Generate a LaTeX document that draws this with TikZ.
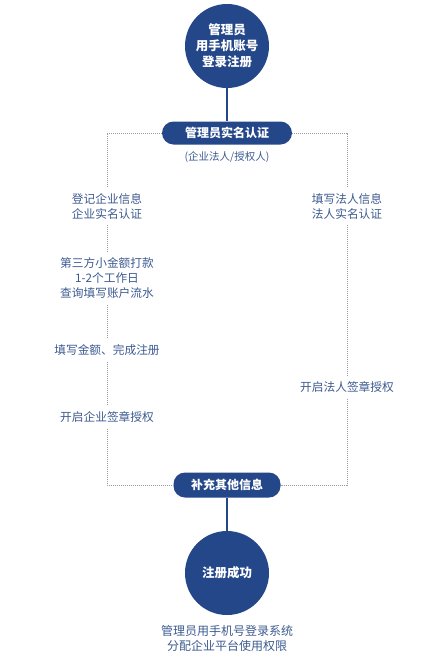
\documentclass[tikz,border=0pt]{standalone}
\usepackage{fontspec}
\setmainfont{Noto Sans CJK SC}
\usetikzlibrary{positioning}
\definecolor{regblue}{HTML}{24478A}
\definecolor{steptext}{HTML}{3C5A8F}
\definecolor{dotgrey}{HTML}{9B9B9B}

\begin{document}
\begin{tikzpicture}[x=1pt, y=-1pt,
    every node/.style={align=center},
    circ/.style={circle, fill=regblue, text=white, minimum size=84pt, inner sep=0pt,
        font=\fontsize{12.5}{16}\selectfont\bfseries},
    pill/.style={rectangle, rounded corners=11.5pt, fill=regblue, text=white,
        minimum height=23pt, font=\fontsize{12}{14}\selectfont\bfseries},
    stepnote/.style={text=steptext, inner xsep=2pt, inner ysep=6pt,
        font=\fontsize{11.7}{15}\selectfont},
    dotline/.style={dotgrey, line width=0.8pt, dash pattern=on 1pt off 1pt},
    flowline/.style={regblue, line width=2pt}]
    \useasboundingbox (0,0) rectangle (442,667);

    \node[circ] (login) at (227,46) {管理员\\用手机账号\\登录注册};
    \node[pill, minimum width=130pt] (verify) at (227,133) {管理员实名认证};
    \node[stepnote, font=\fontsize{10.5}{13}\selectfont] (role) at (227,157) {(企业法人/授权人)};

    % enterprise side
    \node[stepnote] (entinfo) at (107,206) {登记企业信息\\企业实名认证};
    \node[stepnote] (transfer) at (107,278) {第三方小金额打款\\1-2个工作日\\查询填写账户流水};
    \node[stepnote] (amount) at (107,350) {填写金额、完成注册};
    \node[stepnote] (entsign) at (107,417) {开启企业签章授权};

    % legal representative side
    \node[stepnote] (repinfo) at (347,206) {填写法人信息\\法人实名认证};
    \node[stepnote] (repsign) at (347,387) {开启法人签章授权};

    \node[pill, minimum width=107pt, minimum height=25pt] (extra) at (227,485) {补充其他信息};
    \node[circ] (done) at (227,573) {注册成功};
    \node[stepnote, font=\fontsize{12}{15}\selectfont] (final) at (227,638) {管理员用手机号登录系统\\分配企业平台使用权限};

    \draw[flowline] (login) -- (verify);
    \draw[flowline] (extra) -- (done);

    \draw[dotline] (verify.west) -| (entinfo.north);
    \draw[dotline] (entinfo) -- (transfer);
    \draw[dotline] (transfer) -- (amount);
    \draw[dotline] (amount) -- (entsign);
    \draw[dotline] (entsign.south) |- (extra.west);

    \draw[dotline] (verify.east) -| (repinfo.north);
    \draw[dotline] (repinfo) -- (repsign);
    \draw[dotline] (repsign.south) |- (extra.east);
\end{tikzpicture}
\end{document}
